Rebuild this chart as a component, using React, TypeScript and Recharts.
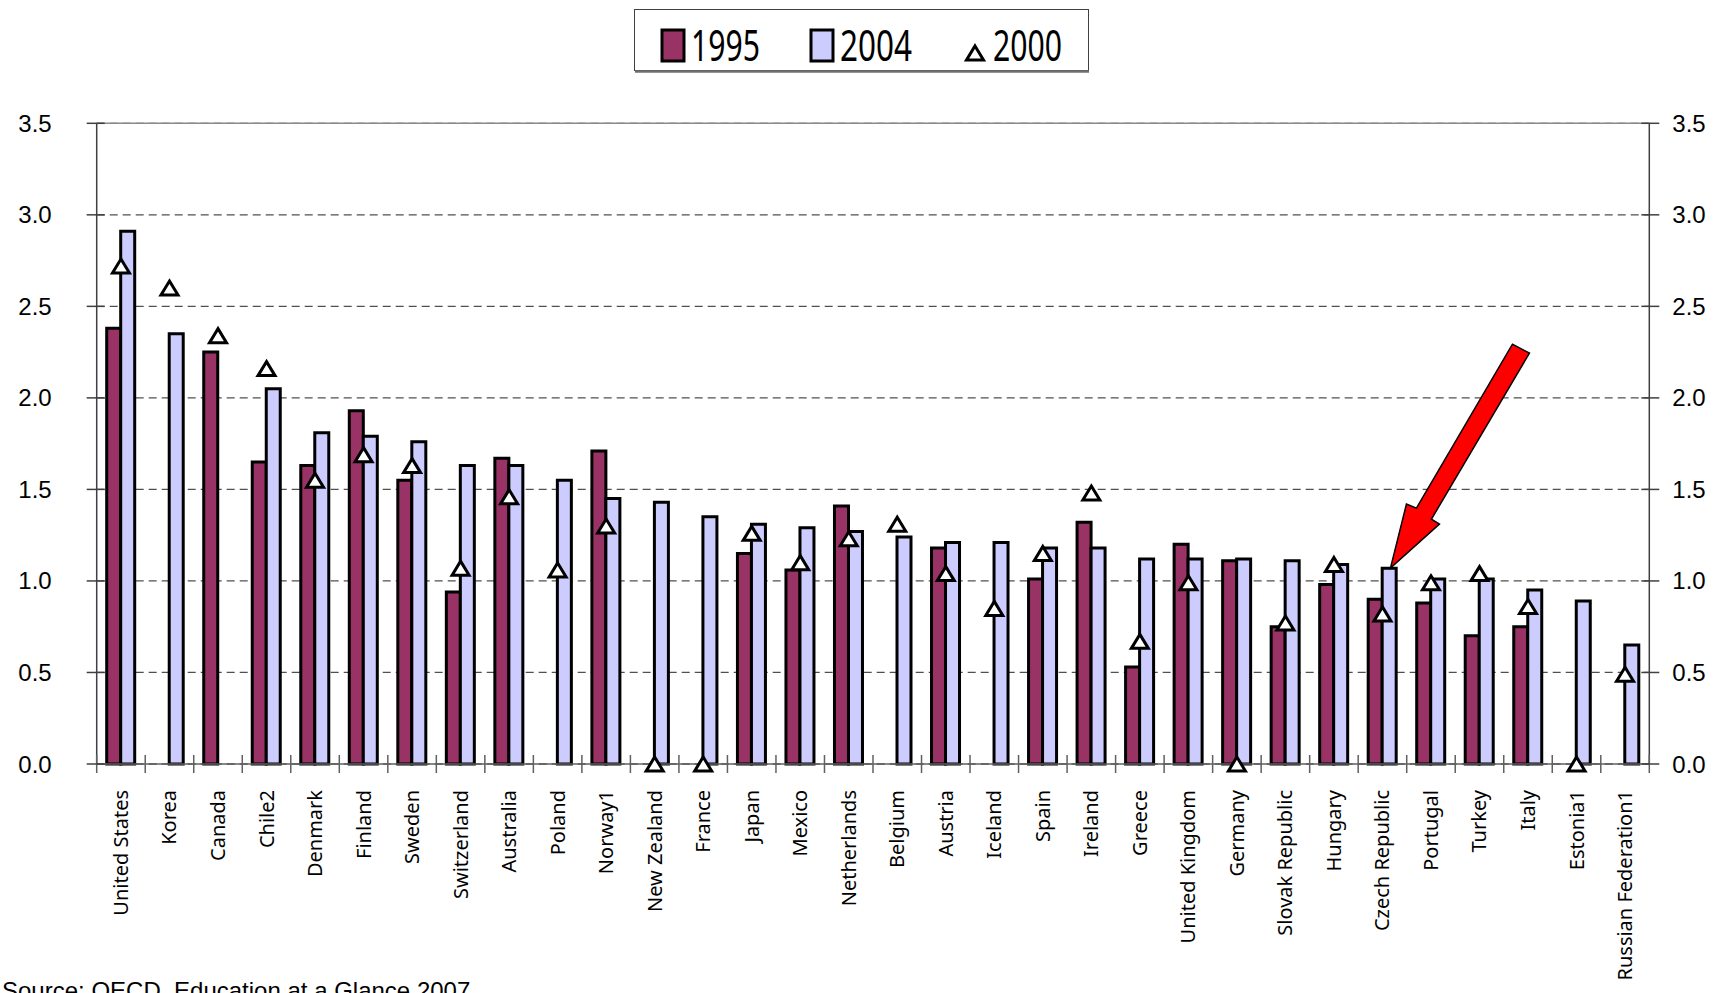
import React from "react";
import {
	Bar,
	CartesianGrid,
	ComposedChart,
	Line,
	ReferenceDot,
	ReferenceLine,
	XAxis,
	YAxis,
} from "recharts";

const categories = [
	"United States", "Korea", "Canada", "Chile2", "Denmark", "Finland", "Sweden", "Switzerland",
	"Australia", "Poland", "Norway1", "New Zealand", "France", "Japan", "Mexico", "Netherlands",
	"Belgium", "Austria", "Iceland", "Spain", "Ireland", "Greece", "United Kingdom", "Germany",
	"Slovak Republic", "Hungary", "Czech Republic", "Portugal", "Turkey", "Italy", "Estonia1",
	"Russian Federation1",
];

const values1995 = [
	2.38, null, 2.25, 1.65, 1.63, 1.93, 1.55, 0.94, 1.67, null, 1.71, null, null, 1.15, 1.06, 1.41,
	null, 1.18, null, 1.01, 1.32, 0.53, 1.2, 1.11, 0.75, 0.98, 0.9, 0.88, 0.7, 0.75, null, null,
];

const values2004 = [
	2.91, 2.35, null, 2.05, 1.81, 1.79, 1.76, 1.63, 1.63, 1.55, 1.45, 1.43, 1.35, 1.31, 1.29, 1.27,
	1.24, 1.21, 1.21, 1.18, 1.18, 1.12, 1.12, 1.12, 1.11, 1.09, 1.07, 1.01, 1.01, 0.95, 0.89, 0.65,
];

const values2000 = [
	2.72, 2.6, 2.34, 2.16, 1.55, 1.69, 1.63, 1.07, 1.46, 1.06, 1.3, 0, 0, 1.26, 1.1, 1.23,
	1.31, 1.04, 0.85, 1.15, 1.48, 0.67, 0.99, 0, 0.77, 1.09, 0.82, 0.99, 1.04, 0.86, 0, 0.49,
];

const yTicks = [0, 0.5, 1, 1.5, 2, 2.5, 3, 3.5];
const seriesNames = ["1995", "2004", "2000"];
const highlighted = "Czech Republic";

const data = categories.map((name, i) => ({
	name,
	v1995: values1995[i],
	v2004: values2004[i],
	v2000: values2000[i],
}));

const W = 1720;
const H = 993;
const MARGIN = { top: 123.3, right: 0.7, bottom: 0, left: 6.7 };
const LEFT_W = 90;
const RIGHT_W = 70;
const BAND = (W - MARGIN.left - MARGIN.right - LEFT_W - RIGHT_W) / categories.length;

const AXIS_FONT = "'Liberation Sans', Arial, sans-serif";
const LABEL_FONT = "'Noto Sans', sans-serif";

function CategoryTick(props: any) {
	const { x, y, payload, index } = props;
	const half = BAND / 2;
	return (
		<g>
			<line x1={x - half} x2={x - half} y1={y - 9} y2={y + 9} stroke="#606060" strokeWidth={1.5} />
			{index === categories.length - 1 && (
				<line x1={x + half} x2={x + half} y1={y - 9} y2={y + 9} stroke="#606060" strokeWidth={1.5} />
			)}
			<text
				transform={`translate(${x},${y + 26}) rotate(-90)`}
				textAnchor="end"
				dy="0.35em"
				fontSize={20}
				fontFamily={LABEL_FONT}
				fill="#000"
			>
				{payload.value}
			</text>
		</g>
	);
}

function LeftTick(props: any) {
	const { x, y, payload } = props;
	return (
		<g>
			<line x1={x - 10} x2={x + 8} y1={y} y2={y} stroke="#404040" strokeWidth={1.5} />
			<text x={x - 45} y={y} dy="0.355em" textAnchor="end" fontSize={24} fontFamily={AXIS_FONT} fill="#000">
				{payload.value.toFixed(1)}
			</text>
		</g>
	);
}

function RightTick(props: any) {
	const { x, y, payload } = props;
	return (
		<g>
			<line x1={x - 8} x2={x + 10} y1={y} y2={y} stroke="#404040" strokeWidth={1.5} />
			<text x={x + 23} y={y} dy="0.355em" textAnchor="start" fontSize={24} fontFamily={AXIS_FONT} fill="#000">
				{payload.value.toFixed(1)}
			</text>
		</g>
	);
}

// Excel-style triangle marker, centred on the value
function triPath(cx: number, cy: number) {
	return `M${cx},${cy - 7} L${cx + 8.5},${cy + 7} L${cx - 8.5},${cy + 7} Z`;
}

function TriangleDot(props: any) {
	const { cx, cy, index } = props;
	if (cx == null || cy == null) return <g key={`t${index}`} />;
	return <path key={`t${index}`} d={triPath(cx, cy)} fill="#fff" stroke="#000" strokeWidth={3} strokeLinejoin="miter" />;
}

function ArrowShape(props: any) {
	const { cx, cy } = props;
	const tx = cx + 8;
	const ty = cy;
	const pts = [
		[0, 0], [16, -64], [26, -60], [122, -224], [139, -215], [41, -49], [49, -44],
	].map(([dx, dy]) => `${tx + dx},${ty + dy}`).join(" ");
	return <polygon points={pts} fill="#ff0000" stroke="#000" strokeWidth={1.5} strokeLinejoin="miter" />;
}

function LegendBox() {
	return (
		<svg width={520} height={66} style={{ position: "absolute", left: 634, top: 9 }}>
			<rect x={0.5} y={0.5} width={454} height={61} fill="#fff" stroke="#404040" strokeWidth={1} />
			<line x1={1} x2={455} y1={62.5} y2={62.5} stroke="#707070" strokeWidth={2.5} />
			<rect x={28} y={21} width={22} height={31} fill="#993366" stroke="#000" strokeWidth={3} />
			<text x={57} y={52} fontSize={44} textLength={69} lengthAdjust="spacingAndGlyphs" fontFamily={LABEL_FONT}>
				{seriesNames[0]}
			</text>
			<rect x={177} y={21} width={22} height={31} fill="#CCCCFF" stroke="#000" strokeWidth={3} />
			<text x={206} y={52} fontSize={44} textLength={72} lengthAdjust="spacingAndGlyphs" fontFamily={LABEL_FONT}>
				{seriesNames[1]}
			</text>
			<path d={triPath(341, 44)} fill="#fff" stroke="#000" strokeWidth={3} />
			<text x={359} y={52} fontSize={44} textLength={69} lengthAdjust="spacingAndGlyphs" fontFamily={LABEL_FONT}>
				{seriesNames[2]}
			</text>
		</svg>
	);
}

export default function App() {
	const hi = categories.indexOf(highlighted);
	return (
		<div
			style={{
				position: "absolute",
				left: 0,
				top: 0,
				width: W,
				height: H,
				overflow: "hidden",
				background: "#fff",
			}}
		>
			<ComposedChart width={W} height={H} data={data} margin={MARGIN} barGap={0} barSize={14}>
				<CartesianGrid vertical={false} stroke="#505050" strokeWidth={1.3} strokeDasharray="8 5" />
				<ReferenceLine y={3.5} stroke="#8a8a8a" strokeWidth={1.5} />
				<XAxis
					dataKey="name"
					interval={0}
					height={229}
					tickSize={0}
					tickMargin={0}
					tickLine={false}
					tick={CategoryTick}
					axisLine={{ stroke: "#606060", strokeWidth: 1.5 }}
				/>
				<YAxis
					domain={[0, 3.5]}
					ticks={yTicks}
					width={LEFT_W}
					tickSize={0}
					tickMargin={0}
					tickLine={false}
					tick={LeftTick}
					axisLine={{ stroke: "#404040", strokeWidth: 1.5 }}
				/>
				<YAxis
					yAxisId="right"
					orientation="right"
					domain={[0, 3.5]}
					ticks={yTicks}
					width={RIGHT_W}
					tickSize={0}
					tickMargin={0}
					tickLine={false}
					tick={RightTick}
					axisLine={{ stroke: "#404040", strokeWidth: 1.5 }}
				/>
				<Bar dataKey="v1995" name={seriesNames[0]} fill="#993366" stroke="#000" strokeWidth={3} isAnimationActive={false} />
				<Bar dataKey="v2004" name={seriesNames[1]} fill="#CCCCFF" stroke="#000" strokeWidth={3} isAnimationActive={false} />
				<Line
					yAxisId="right"
					dataKey="v2000"
					name={seriesNames[2]}
					stroke="none"
					dot={TriangleDot}
					activeDot={false}
					isAnimationActive={false}
				/>
				<ReferenceDot x={highlighted} y={values2004[hi] as number} r={0} shape={ArrowShape} />
			</ComposedChart>
			<LegendBox />
			<div
				style={{
					position: "absolute",
					left: 2,
					top: 979,
					fontSize: 24,
					lineHeight: "24px",
					fontFamily: AXIS_FONT,
					whiteSpace: "nowrap",
				}}
			>
				Source: OECD, Education at a Glance 2007.
			</div>
		</div>
	);
}
